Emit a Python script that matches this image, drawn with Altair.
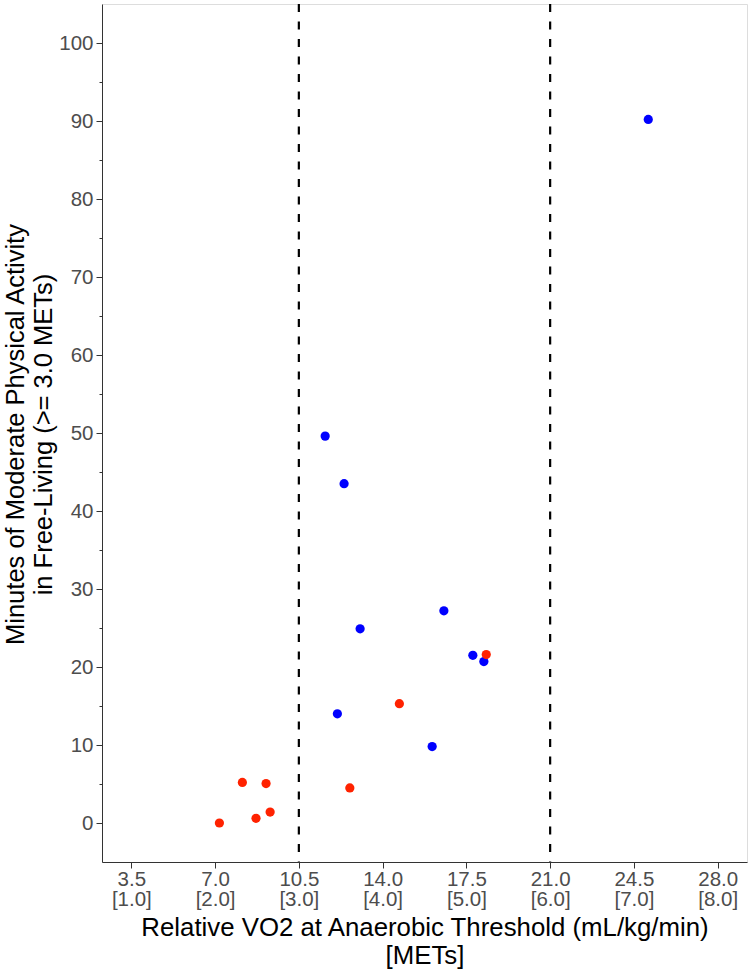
import altair as alt
import pandas as pd

# ---- data ----
blue_x = [25.1, 11.6, 12.39, 16.56, 13.06, 17.77, 18.23, 12.11, 16.07]
blue_y = [90.2, 49.6, 43.5, 27.2, 24.9, 21.5, 20.7, 14.0, 9.8]
red_x = [18.33, 14.7, 8.14, 9.13, 12.63, 9.3, 8.71, 7.18]
red_y = [21.6, 15.3, 5.2, 5.05, 4.5, 1.4, 0.6, 0.0]

x_ticks = [3.5, 7.0, 10.5, 14.0, 17.5, 21.0, 24.5, 28.0]
x_tick_top = ["3.5", "7.0", "10.5", "14.0", "17.5", "21.0", "24.5", "28.0"]
x_tick_bottom = ["[1.0]", "[2.0]", "[3.0]", "[4.0]", "[5.0]", "[6.0]", "[7.0]", "[8.0]"]
y_ticks = [0, 10, 20, 30, 40, 50, 60, 70, 80, 90, 100]
y_minor = [5, 15, 25, 35, 45, 55, 65, 75, 85, 95]
vlines = [10.5, 21.0]

groups = ["A", "B"]
colors = ["#0000FF", "#FF2200"]

FONT = "Liberation Sans"

pts = pd.DataFrame({
    "x": blue_x + red_x,
    "y": blue_y + red_y,
    "g": ["A"] * len(blue_x) + ["B"] * len(red_x),
})
vl = pd.DataFrame({"x": vlines})
minor = pd.DataFrame({"y": y_minor})

xscale = alt.Scale(domain=[2.275, 29.225], nice=False, zero=False)
yscale = alt.Scale(domain=[-5, 105], nice=False, zero=False)

labels_js = "[" + ",".join(
    "['%s','%s']" % (a, b) for a, b in zip(x_tick_top, x_tick_bottom)) + "]"
vals_js = "[" + ",".join(repr(v) for v in x_ticks) + "]"
label_expr = f"{labels_js}[indexof({vals_js}, datum.value)]"

W, H = 645, 858

x_axis = alt.Axis(
    values=x_ticks, labelExpr=label_expr,
    title=["Relative VO2 at Anaerobic Threshold (mL/kg/min)", "[METs]"],
    titleFontSize=25.8, titleFont=FONT, titleColor="black", titleFontWeight="normal",
    titleX=W / 2, titleY=73.5, titleAlign="center", titleBaseline="alphabetic",
    titleLineHeight=28,
    labelFontSize=20.5, labelFont=FONT, labelColor="#4D4D4D",
    labelBaseline="alphabetic", labelPadding=17, labelLineHeight=20.5,
    labelFlush=False, labelOverlap=False,
    tickSize=6, tickColor="#333333", domainColor="#333333", grid=False,
)

rules = alt.Chart(vl).mark_rule(color="black", strokeWidth=2.2, strokeDash=[8, 9.5]).encode(
    x=alt.X("x:Q", scale=xscale, axis=x_axis),
)

points = alt.Chart(pts).mark_circle(size=85, opacity=1).encode(
    x=alt.X("x:Q", scale=xscale, axis=x_axis),
    y=alt.Y("y:Q", scale=yscale, axis=alt.Axis(
        values=y_ticks, format="d",
        title=["Minutes of Moderate Physical Activity", "in Free-Living (>= 3.0 METs)"],
        titleFontSize=25.5, titleFont=FONT, titleColor="black", titleFontWeight="normal",
        titleX=-79, titleY=H / 2 + 1, titleAlign="center", titleBaseline="alphabetic",
        titleAngle=270, titleLineHeight=28,
        labelFontSize=20.5, labelFont=FONT, labelColor="#4D4D4D",
        labelPadding=3, labelFlush=False, labelOverlap=False,
        tickSize=6, tickColor="#333333", domainColor="#333333", grid=False,
    )),
    color=alt.Color("g:N", scale=alt.Scale(domain=groups, range=colors), legend=None),
)

minor_ticks = alt.Chart(minor).mark_point(opacity=0).encode(
    x=alt.value(0),
    y=alt.Y("y:Q", scale=yscale, axis=alt.Axis(
        orient="left", values=y_minor, labels=False, title=None, domain=False,
        tickSize=3, tickColor="#333333", grid=False,
    )),
)

chart = alt.layer(rules, points, minor_ticks).resolve_axis(y="independent").properties(
    width=W, height=H,
    autosize=alt.AutoSizeParams(type="none"),
    padding={"left": 102, "top": 4, "right": 3, "bottom": 108},
).configure_view(stroke=None).configure(background="white")

chart.save("out.html", embed_options={"renderer": "svg", "actions": False})
